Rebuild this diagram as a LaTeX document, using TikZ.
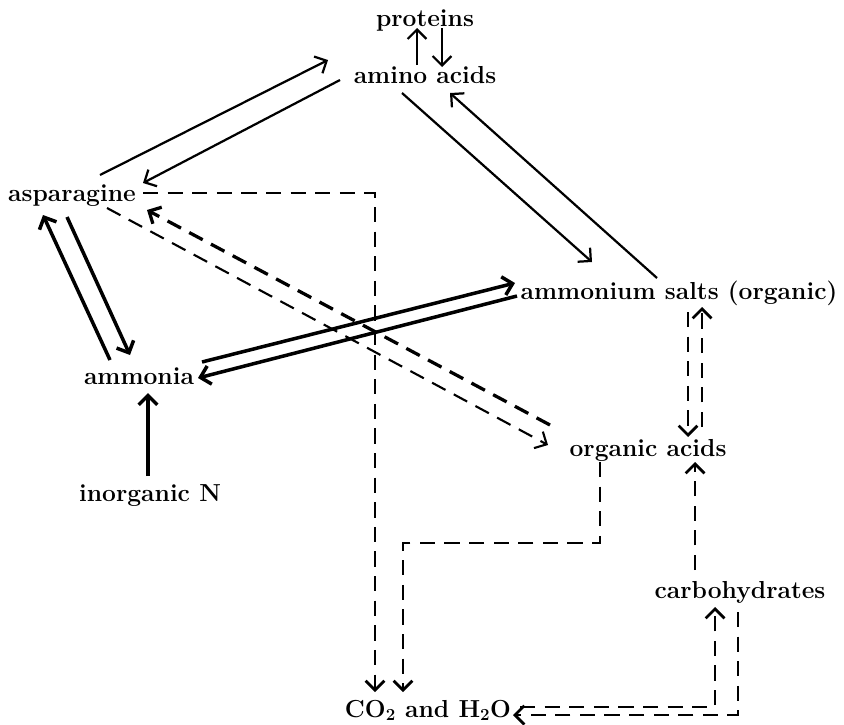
\documentclass[tikz,border=0pt]{standalone}
\usepackage{amsmath}
\usepackage{tikz}
\usetikzlibrary{arrows.meta}

\begin{document}
\begin{tikzpicture}[x=0.03cm, y=-0.03cm,
    every node/.style={font=\fontsize{21}{25}\selectfont\bfseries, inner sep=0pt, text height=15pt, text depth=3pt},
    conv/.style={-{Straight Barb[length=8pt, width=16pt]}, line width=1.9pt},
    convthick/.style={conv, line width=3pt},
    resp/.style={conv, line width=2.4pt, dash pattern=on 13pt off 8pt}]
    \useasboundingbox (0,0) rectangle (844,724);

    % Compounds
    \node (prot) at (425,19) {proteins};
    \node (amino) at (425,76) {amino acids};
    \node (aspar) at (72,194) {asparagine};
    \node (ammonia) at (139,377) {ammonia};
    \node (inorg) at (150,494) {inorganic N};
    \node (salts) at (679,292) {ammonium salts (organic)};
    \node (orgac) at (648,449) {organic acids};
    \node (carbo) at (740,591) {carbohydrates};
    \node (co2) at (428,710) {CO$_{\mathbf{2}}$ and H$_{\mathbf{2}}$O};

    % proteins <-> amino acids
    \draw[conv] ([shift={(-8,-11)}]amino.center) -- ([shift={(-8,9)}]prot.center);
    \draw[conv] ([shift={(17,9)}]prot.center) -- ([shift={(17,-9)}]amino.center);

    % asparagine <-> amino acids
    \draw[conv] ([shift={(28,-19)}]aspar.center) -- ([shift={(-97,-16)}]amino.center);
    \draw[conv] ([shift={(-85,4)}]amino.center) -- ([shift={(71,-11)}]aspar.center);

    % amino acids <-> ammonium salts
    \draw[conv] ([shift={(-23,17)}]amino.center) -- ([shift={(-87,-30)}]salts.center);
    \draw[conv] ([shift={(-22,-14)}]salts.center) -- ([shift={(25,17)}]amino.center);

    % asparagine <-> ammonia
    \draw[convthick] ([shift={(-5,23)}]aspar.center) -- ([shift={(-9,-22)}]ammonia.center);
    \draw[convthick] ([shift={(-29,-17)}]ammonia.center) -- ([shift={(-29,21)}]aspar.center);

    % ammonia <-> ammonium salts
    \draw[convthick] ([shift={(63,-15)}]ammonia.center) -- ([shift={(-164,-9)}]salts.center);
    \draw[convthick] ([shift={(-162,4)}]salts.center) -- ([shift={(59,1)}]ammonia.center);

    % inorganic N -> ammonia
    \draw[convthick] ([shift={(-2,-18)}]inorg.center) -- ([shift={(9,16)}]ammonia.center);

    % asparagine <-> organic acids (dashed)
    \draw[resp, line width=1.8pt] ([shift={(35,14)}]aspar.center) -- ([shift={(-100,-4)}]orgac.center);
    \draw[resp, line width=2.8pt] ([shift={(-98,-24)}]orgac.center) -- ([shift={(75,16)}]aspar.center);

    % respiration to CO2 and H2O
    \draw[resp] ([shift={(71,-1)}]aspar.center) -| ([shift={(-53,-18)}]co2.center);
    \draw[resp] ([shift={(-48,13)}]orgac.center) -- ++(0,81) -| ([shift={(-25,-18)}]co2.center);

    % ammonium salts <-> organic acids
    \draw[resp] ([shift={(9,20)}]salts.center) -- ([shift={(40,-12)}]orgac.center);
    \draw[resp] ([shift={(54,-22)}]orgac.center) -- ([shift={(23,15)}]salts.center);

    % carbohydrates
    \draw[resp] ([shift={(-45,-21)}]carbo.center) -- ([shift={(47,13)}]orgac.center);
    \draw[resp] ([shift={(-2,21)}]carbo.center) |- ([shift={(85,5)}]co2.center);
    \draw[resp] ([shift={(92,-3)}]co2.center) -| ([shift={(-25,16)}]carbo.center);
\end{tikzpicture}
\end{document}
